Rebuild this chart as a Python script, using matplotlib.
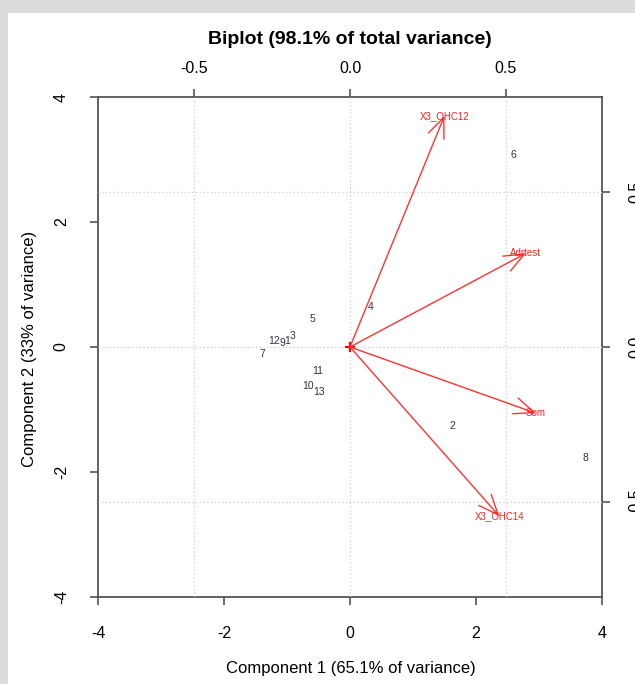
import matplotlib
matplotlib.use("Agg")
import matplotlib.pyplot as plt
import numpy as np
from matplotlib.patches import Rectangle

plt.rcParams["font.family"] = ["Liberation Sans", "DejaVu Sans"]
plt.rcParams["axes.unicode_minus"] = False

# observation scores (component 1, component 2)
obs_labels = ["1", "2", "3", "4", "5", "6", "7", "8", "9", "10", "11", "12", "13"]
obs_x = [-0.99, 1.63, -0.91, 0.32, -0.59, 2.59, -1.39, 3.74, -1.08, -0.66, -0.52, -1.21, -0.49]
obs_y = [0.10, -1.26, 0.17, 0.64, 0.45, 3.07, -0.11, -1.78, 0.06, -0.62, -0.38, 0.10, -0.72]

# variable loadings (top / right axis units)
var_labels = ["X3_OHC12", "Adrtest", "Som", "X3_OHC14"]
var_x = [0.303, 0.564, 0.596, 0.479]
var_y = [0.747, 0.303, -0.214, -0.547]

main_ticks = [-4, -2, 0, 2, 4]
var_ticks = [-0.5, 0.0, 0.5]
var_ticklabels = ["-0.5", "0.0", "0.5"]
lim = 4
var_lim = 0.808

W, H = 635, 684
fig = plt.figure(figsize=(W / 100, H / 100), dpi=100, facecolor="#dcdcdc")
fig.patches.append(Rectangle((8 / W, 0), 1, (H - 13) / H, transform=fig.transFigure,
                             facecolor="white", edgecolor="none", zorder=-1))

pos = [98 / W, (H - 597) / H, (602 - 98) / W, (597 - 97) / H]
axc = "#555555"

ax = fig.add_axes(pos)
ax.set_zorder(1)
ax.set_xlim(-lim, lim)
ax.set_ylim(-lim, lim)
ax.patch.set_visible(False)
ax.set_xticks(main_ticks)
ax.set_yticks(main_ticks)
ax.tick_params(axis="x", length=6, width=1.2, color=axc, pad=15, labelsize=11.5)
ax.tick_params(axis="y", length=6, width=1.2, color=axc, pad=15, labelsize=11.5,
               labelrotation=90)
for lab in ax.get_yticklabels():
    lab.set_va("center")
for s in ax.spines.values():
    s.set_color(axc)
    s.set_linewidth(1.3)

# second coordinate system for the variable arrows
av = fig.add_axes(pos)
av.set_zorder(2)
av.set_xlim(-var_lim, var_lim)
av.set_ylim(-var_lim, var_lim)
av.patch.set_visible(False)
av.xaxis.tick_top()
av.yaxis.tick_right()
av.set_xticks(var_ticks)
av.set_xticklabels(var_ticklabels)
av.set_yticks(var_ticks)
av.set_yticklabels(var_ticklabels)
av.tick_params(axis="x", length=6, width=1.2, color=axc, pad=9, labelsize=11.5)
av.tick_params(axis="y", length=6, width=1.2, color=axc, pad=13, labelsize=11.5,
               labelrotation=90)
for lab in av.get_yticklabels():
    lab.set_va("center")
for s in av.spines.values():
    s.set_visible(False)

for t in var_ticks:
    av.axvline(t, color="#cccccc", lw=0.9, ls=(0, (1, 2)), zorder=0)
    av.axhline(t, color="#cccccc", lw=0.9, ls=(0, (1, 2)), zorder=0)

for lab, x, y in zip(obs_labels, obs_x, obs_y):
    ax.text(x, y, lab, ha="center", va="center", fontsize=7.5, color="#333340")

for lab, x, y in zip(var_labels, var_x, var_y):
    av.annotate("", xy=(x, y), xytext=(0, 0),
                arrowprops=dict(arrowstyle="->,head_length=1.2,head_width=0.5",
                                color="#ff3333", lw=1.0, shrinkA=0, shrinkB=0,
                                mutation_scale=12))
    av.text(x, y, lab, ha="center", va="center", fontsize=7, color="#ff2020")
av.plot([0], [0], marker="+", color="red", ms=7, mew=1.5)

fig.text(350 / W, 1 - 39 / H, "Biplot (98.1% of total variance)", ha="center",
         va="center", fontsize=14, fontweight="bold")
fig.text(351 / W, 1 - 668 / H, "Component 1 (65.1% of variance)", ha="center",
         va="center", fontsize=12)
fig.text(30 / W, 1 - 349 / H, "Component 2 (33% of variance)", ha="center",
         va="center", fontsize=12, rotation=90)

fig.savefig("out.png", dpi=100, facecolor=fig.get_facecolor())
